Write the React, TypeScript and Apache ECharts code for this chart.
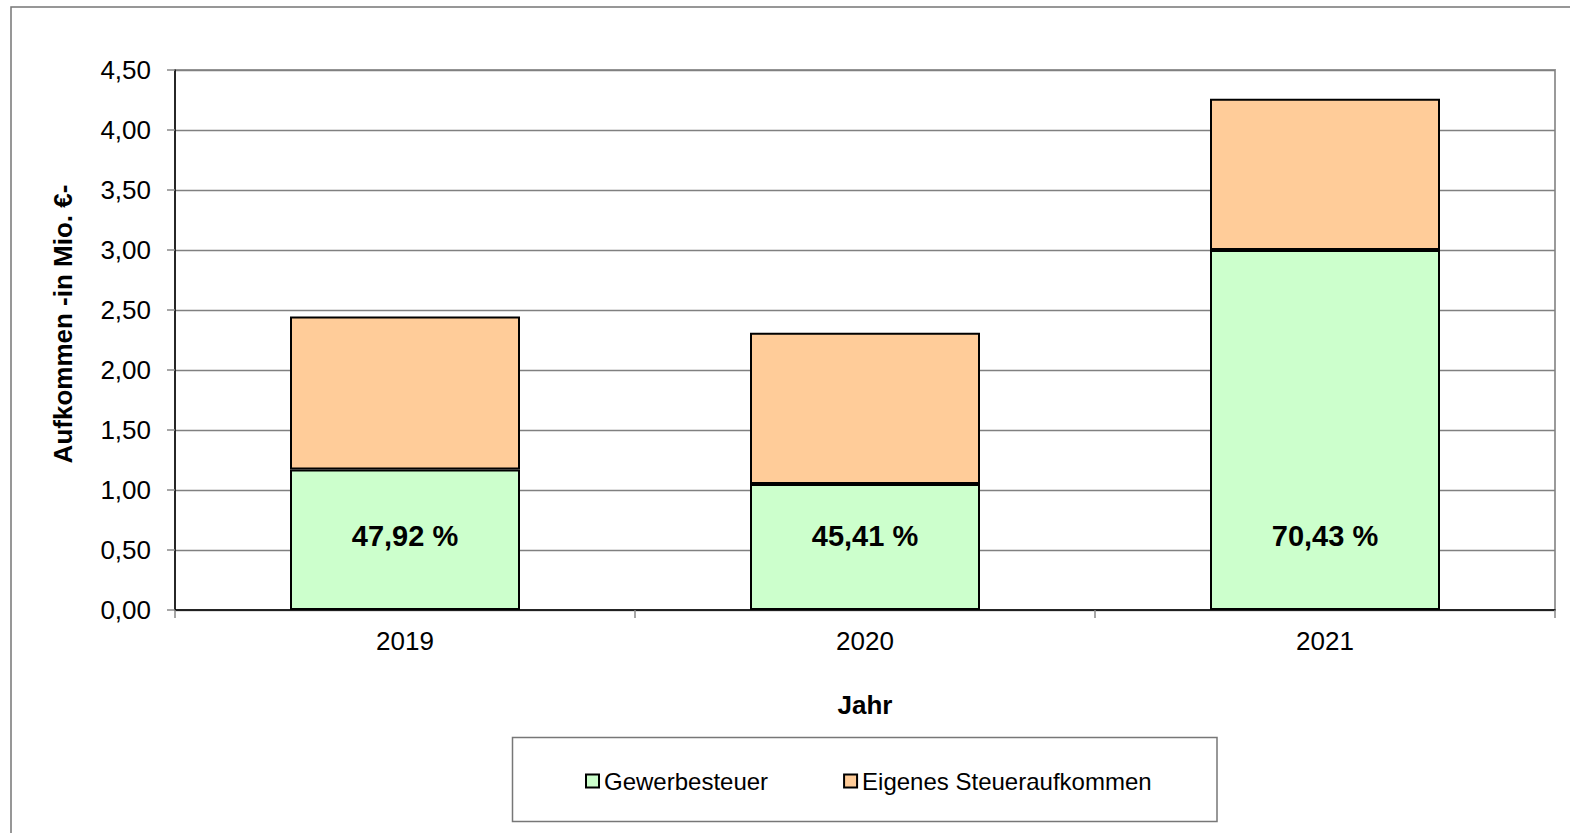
import React, { useEffect, useRef } from "react";
import * as echarts from "echarts";

const years = ["2019", "2020", "2021"];
const gewerbesteuer = [1.17, 1.05, 3.0];
const eigenesSteueraufkommen = [1.275, 1.26, 1.26];
const anteilProzent = [47.92, 45.41, 70.43];
const seriesNames = ["Gewerbesteuer", "Eigenes Steueraufkommen"];
const yMin = 0;
const yMax = 4.5;
const yInterval = 0.5;
const xTitle = "Jahr";
const yTitle = "Aufkommen -in Mio. €-";

const FONT = "'Liberation Sans', Arial, sans-serif";
const de = (v: number, d: number) => v.toFixed(d).replace(".", ",");

export default function App() {
  const ref = useRef<HTMLDivElement>(null);
  useEffect(() => {
    document.body.style.margin = "0";
    const chart = echarts.init(ref.current!, null, { renderer: "svg" });
    chart.setOption({
      animation: false,
      backgroundColor: "#ffffff",
      textStyle: { fontFamily: FONT },
      grid: {
        left: 175,
        right: 15,
        top: 70,
        bottom: 223,
        show: true,
        borderColor: "#9a9a9a",
        borderWidth: 2,
        backgroundColor: "transparent",
      },
      legend: {
        left: 585,
        top: 769,
        padding: 0,
        itemWidth: 13,
        itemHeight: 13,
        itemGap: 75,
        icon: "rect",
        textStyle: { fontSize: 24, color: "#000", fontFamily: FONT, lineHeight: 24 },
        data: seriesNames,
      },
      xAxis: {
        type: "category",
        data: years,
        boundaryGap: true,
        name: xTitle,
        nameLocation: "middle",
        nameGap: 82,
        nameTextStyle: { fontSize: 26, fontWeight: "bold", color: "#000", fontFamily: FONT },
        axisLine: { show: true, lineStyle: { color: "#000", width: 1.5 } },
        axisTick: { show: true, length: 8, alignWithLabel: false, lineStyle: { color: "#888", width: 1.5 } },
        axisLabel: { fontSize: 26, color: "#000", margin: 18, fontFamily: FONT },
        splitLine: { show: false },
      },
      yAxis: {
        type: "value",
        min: yMin,
        max: yMax,
        interval: yInterval,
        axisLine: { show: true, lineStyle: { color: "#000", width: 1.5 } },
        axisTick: { show: true, length: 8, lineStyle: { color: "#888", width: 1.5 } },
        axisLabel: {
          fontSize: 26,
          color: "#000",
          margin: 24,
          fontFamily: FONT,
          formatter: (v: number) => de(v, 2),
        },
        splitLine: { show: true, lineStyle: { color: "#808080", width: 1.3 } },
      },
      graphic: [
        {
          type: "rect",
          shape: { x: 11, y: 7, width: 1700, height: 1000 },
          style: { fill: "none", stroke: "#767676", lineWidth: 1.5 },
          silent: true,
        },
        {
          type: "rect",
          shape: { x: 512.5, y: 737.5, width: 704.5, height: 84 },
          style: { fill: "none", stroke: "#777", lineWidth: 1.5 },
          silent: true,
        },
        {
          type: "text",
          x: 63,
          y: 324,
          rotation: Math.PI / 2,
          style: {
            text: yTitle,
            fontSize: 26,
            fontWeight: "bold",
            fontFamily: FONT,
            fill: "#000",
            align: "center",
            verticalAlign: "middle",
          },
        },
      ],
      series: [
        {
          name: seriesNames[0],
          type: "bar",
          stack: "total",
          barWidth: "50%",
          data: gewerbesteuer,
          itemStyle: { color: "#CCFFCC", borderColor: "#000", borderWidth: 2 },
          label: {
            show: true,
            position: "insideBottom",
            distance: 60,
            fontSize: 29,
            fontWeight: "bold",
            color: "#000",
            fontFamily: FONT,
            formatter: (p: any) => de(anteilProzent[p.dataIndex], 2) + " %",
          },
        },
        {
          name: seriesNames[1],
          type: "bar",
          stack: "total",
          barWidth: "50%",
          data: eigenesSteueraufkommen,
          itemStyle: { color: "#FFCC99", borderColor: "#000", borderWidth: 2 },
        },
      ],
    });
    return () => chart.dispose();
  }, []);
  return (
    <div
      ref={ref}
      style={{ position: "absolute", left: 0, top: 0, width: 1570, height: 833 }}
    />
  );
}
